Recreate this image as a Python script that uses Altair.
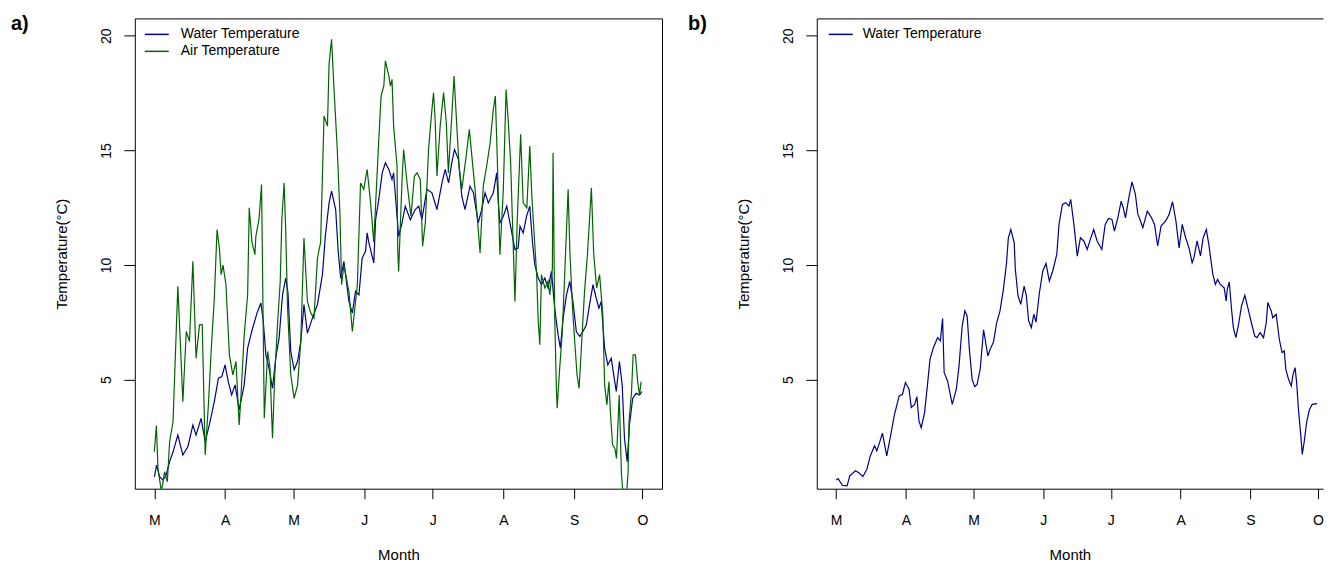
import json
import altair as alt
import pandas as pd

WATER = "Water Temperature"
AIR = "Air Temperature"
BLUE = "#00008B"
GREEN = "#006400"
FONT = "Liberation Sans"

MONTH_TICKS = [0, 31, 61, 92, 122, 153, 184, 214]
MONTH_LABELS = ["M", "A", "M", "J", "J", "A", "S", "O"]
TEMP_TICKS = [5, 10, 15, 20]
PANEL_LABELS = ["a)", "b)"]

# ---- panel a) water temperature (day since 1 March, degC)
a_water_day = [0, 1, 2.3, 3.8, 5.2, 6.7, 8.2, 10.3, 12.5, 14.7,
               16.9, 18.3, 20.5, 22.3, 24.1, 26.3, 28.1, 29.6, 31, 32.4,
               33.9, 35.4, 37.2, 39.4, 40.9, 42.7, 45, 46.7, 47.7, 48.9,
               50.3, 51.8, 53.3, 54.7, 56.2, 57.6, 58.6, 59.8, 61.3, 62.8,
               64.2, 65.6, 67.1, 69.3, 71.5, 73.7, 75.0, 76.6, 77.7, 79.5,
               80.6, 81.7, 83.1, 85.3, 86.8, 88.2, 89.7, 91.1, 92.6, 93.3,
               94.0, 96.2, 97.0, 98.4, 99.9, 101.3, 102.8, 104.2, 104.9, 105.7,
               107.1, 108.6, 110, 112.2, 114.4, 115.9, 117.3, 119.5, 121.7, 123.9,
               126.1, 127.5, 129, 130.4, 131.6, 133.3, 134.8, 136.2, 138.4, 139.9,
               142, 143.5, 145, 146.4, 148.6, 150.1, 150.8, 151.5, 153, 154.5,
               155.9, 158.1, 159.5, 160.3, 161.7, 163.2, 164.6, 165.8, 166.8, 168.3,
               169.7, 171.2, 172.6, 174.1, 175.5, 177, 178, 179.2, 180.7, 182.1,
               183.5, 185, 186.5, 187.9, 189.4, 190.8, 192.3, 193.7, 194.9, 195.9,
               197.4, 198.8, 200.3, 202.5, 203.9, 205.1, 206.1, 207.3, 208.3, 209.7,
               211.2, 212.7, 213.8]
a_water_val = [0.76, 1.27, 0.76, 0.62, 0.84, 1.42, 1.85, 2.58, 1.71, 2.07,
               3.02, 2.58, 3.31, 2.29, 3.02, 4.04, 5.06, 5.13, 5.64, 4.91,
               4.33, 4.77, 3.68, 4.77, 6.37, 7.10, 7.90, 8.34, 7.61, 6.08,
               5.50, 4.62, 6.0, 6.81, 8.70, 9.43, 8.78, 6.23, 5.43, 5.79,
               6.66, 8.27, 7.03, 7.68, 8.27, 9.58, 11.3, 12.71, 13.22, 12.42,
               10.6, 9.43, 10.16, 8.41, 7.9, 8.85, 8.7, 10.3, 10.6, 11.4,
               11.0, 10.09, 11.98, 12.86, 14.02, 14.46, 14.17, 13.73, 14.02, 13.0,
               11.25, 11.84, 12.57, 11.98, 12.42, 12.57, 11.98, 13.3, 13.15, 12.42,
               13.58, 14.17, 13.58, 14.46, 15.04, 14.61, 13.0, 12.42, 13.44, 13.15,
               11.84, 12.42, 13.15, 12.71, 13.15, 14.02, 12.71, 11.84, 12.13, 12.57,
               11.84, 10.67, 10.74, 11.69, 11.4, 12.13, 12.57, 10.96, 10.02, 9.43,
               9.14, 9.43, 9.0, 9.72, 8.12, 6.96, 6.37, 7.68, 8.70, 9.29,
               8.41, 7.10, 6.88, 7.10, 7.39, 8.27, 9.14, 8.56, 8.12, 8.41,
               6.37, 5.64, 5.93, 4.48, 5.79, 4.77, 2.44, 1.42, 3.02, 4.18,
               4.4, 4.33, 4.48]

# ---- panel a) air temperature
a_air_day = [0.0, 0.9, 1.6, 3.1, 4.5, 5.7, 6.7, 8.2, 9.6, 10.3,
             11.5, 12.5, 14.0, 15.4, 16.9, 18.3, 19.8, 21.0, 22.3, 23.7,
             24.9, 26.3, 27.5, 28.5, 29.3, 30.1, 31.4, 32.9, 34.4, 35.8,
             37.2, 38.0, 39.4, 40.9, 41.6, 42.8, 44.1, 44.5, 45.9, 47.0,
             48.2, 49.7, 50.7, 51.8, 52.8, 54.0, 55.2, 55.9, 56.9, 57.6,
             58.4, 59.8, 61.3, 62.8, 64.2, 65.6, 67.1, 68.6, 70.0, 71.5,
             72.9, 74.4, 75.9, 76.6, 77.7, 78.7, 80.2, 81.4, 82.1, 83.1,
             85.3, 86.8, 89.0, 90.4, 91.8, 93.3, 94.8, 96.2, 98.4, 99.4,
             100.6, 101.3, 102.8, 103.5, 104.2, 104.9, 106.4, 106.7, 107.1, 108.6,
             109.3, 110.8, 112.5, 114.0, 115.2, 116.6, 117.6, 118.8, 120.2, 121.7,
             122.4, 123.1, 123.9, 125.3, 126.8, 128.0, 128.9, 130.4, 131.4, 132.6,
             133.6, 134.8, 136.7, 138.1, 139.2, 140.6, 142.1, 142.8, 144.2, 145.7,
             147.2, 148.6, 149.5, 150.4, 151.5, 153.0, 154.2, 155.2, 156.2, 158.1,
             159.1, 160.6, 161.7, 163.3, 164.6, 165.5, 167.6, 168.3, 169.0, 169.7,
             171.2, 172.6, 173.4, 174.5, 174.8, 175.5, 176.3, 176.6, 177.7, 178.8,
             179.9, 181.4, 182.2, 183.4, 184.3, 185.3, 186.2, 187.2, 188.6, 189.9,
             191.6, 192.6, 193.9, 195.2, 196.6, 197.4, 198.4, 199.3, 200.0, 200.9,
             201.9, 202.6, 203.8, 204.8, 205.5, 207.0, 207.7, 208.1, 209.2, 209.9,
             210.9, 211.9, 212.7, 213.4]
a_air_val = [1.85, 3.0, 1.12, 0.1, 0.98, 0.54, 2.29, 3.17, 7.10, 9.07,
             6.37, 4.04, 7.10, 6.66, 10.16, 5.93, 7.39, 7.4, 1.71, 3.9,
             6.23, 8.56, 11.55, 10.74, 9.58, 10.0, 9.14, 6.08, 5.21, 5.79,
             3.02, 4.33, 6.95, 8.70, 12.5, 11.0, 10.45, 11.25, 12.0, 13.51,
             3.31, 6.23, 5.5, 2.44, 5.21, 7.39, 9.29, 12.0, 13.58, 11.5,
             8.12, 5.21, 4.18, 4.77, 6.66, 11.18, 8.41, 7.9, 7.68, 10.3,
             11.0, 16.5, 16.06, 18.76, 19.85, 17.81, 15.04, 12.13, 9.14, 10.0,
             8.85, 7.10, 9.14, 13.58, 13.30, 14.17, 12.71, 11.0, 15.48, 17.37,
             17.81, 18.91, 18.25, 17.81, 18.1, 16.06, 14.32, 10.67, 9.72, 13.73,
             15.04, 13.58, 12.13, 13.88, 14.02, 13.73, 10.82, 11.84, 15.04, 16.79,
             17.52, 16.35, 13.88, 16.06, 17.52, 16.21, 14.02, 16.5, 18.25, 16.06,
             14.32, 13.3, 14.75, 15.92, 14.75, 13.3, 11.4, 10.53, 13.44, 14.32,
             15.33, 16.79, 17.37, 14.46, 10.45, 13.3, 17.66, 16.21, 14.46, 8.41,
             11.98, 15.7, 12.71, 12.5, 15.19, 13.0, 9.58, 7.54, 6.52, 9.58,
             9.0, 9.3, 8.7, 9.87, 14.9, 7.83, 4.48, 3.75, 5.5, 7.0,
             9.58, 13.3, 10.5, 8.0, 6.66, 5.21, 4.62, 6.37, 8.85, 10.5,
             13.37, 10.5, 9.0, 9.58, 7.83, 4.77, 3.9, 4.91, 3.46, 2.15,
             2.0, 1.56, 4.33, 0.83, 0.0, 0.0, 0.98, 3.17, 4.48, 6.08,
             6.08, 4.91, 4.33, 4.91]

# ---- panel b) water temperature
b_water_day = [0, 0.9, 2.8, 4.9, 6.1, 8.6, 10.1, 11.9, 13.7, 15.2,
               17.1, 18.1, 19.3, 20.6, 22.5, 24.2, 25.8, 28.0, 29.5, 30.8,
               32.4, 33.4, 34.9, 35.9, 36.8, 37.8, 39.3, 40.7, 41.7, 43.2,
               45.1, 46.3, 47.3, 48.0, 49.5, 51.6, 53.4, 54.6, 56.0, 57.2,
               58.2, 59.2, 60.4, 61.6, 62.6, 64.0, 65.5, 66.2, 67.4, 68.4,
               69.9, 71.3, 72.8, 74.3, 75.7, 76.5, 77.6, 79.1, 79.6, 80.8,
               82.0, 83.5, 84.5, 85.5, 86.7, 87.8, 88.8, 90.3, 91.8, 93.2,
               94.7, 96.2, 98.0, 99.0, 100.5, 102.0, 103.4, 104.2, 105.6, 107.1,
               108.5, 110.0, 111.5, 112.9, 114.4, 115.9, 118.0, 119.5, 121.0, 122.5,
               123.6, 125.1, 126.6, 127.5, 128.5, 130.0, 131.4, 132.9, 134.0, 135.2,
               136.2, 138.2, 139.9, 141.4, 142.8, 144.3, 146.5, 147.9, 149.4, 150.9,
               152.3, 153.7, 155.2, 156.7, 158.1, 158.9, 160.3, 161.8, 163.0, 164.4,
               165.5, 166.2, 167.3, 168.4, 169.4, 170.6, 172.3, 173.2, 173.7, 174.6,
               175.6, 176.4, 177.5, 178.6, 180.0, 181.5, 183.0, 184.4, 185.9, 186.9,
               188.3, 189.8, 191.0, 191.7, 193.2, 193.9, 195.4, 196.8, 198.0, 199.0,
               199.7, 200.9, 202.1, 202.9, 203.8, 204.5, 205.3, 206.3, 207.0, 208.0,
               208.9, 210.2, 211.4, 213.6]
b_water_val = [0.62, 0.68, 0.39, 0.36, 0.80, 1.02, 0.94, 0.77, 1.09, 1.67,
               2.11, 1.89, 2.25, 2.66, 1.67, 2.54, 3.41, 4.29, 4.36, 4.87,
               4.58, 3.78, 3.92, 4.26, 3.2, 2.9, 3.56, 4.87, 5.88, 6.39,
               6.83, 6.69, 7.66, 5.3, 4.94, 3.92, 4.58, 5.6, 7.34, 8.0,
               7.78, 6.32, 5.01, 4.69, 4.79, 5.45, 7.17, 6.76, 6.03, 6.32,
               6.64, 7.48, 8.0, 8.94, 10.1, 11.19, 11.55, 10.97, 9.81, 8.65,
               8.28, 9.08, 8.65, 7.56, 7.27, 7.85, 7.51, 8.79, 9.74, 10.07,
               9.30, 9.74, 10.46, 11.77, 12.64, 12.72, 12.57, 12.86, 11.77, 10.39,
               11.19, 11.05, 10.68, 11.12, 11.55, 11.05, 10.68, 11.77, 12.03, 11.99,
               11.48, 12.06, 12.79, 12.5, 12.06, 12.94, 13.63, 13.08, 12.21, 11.92,
               11.63, 12.35, 12.09, 11.77, 10.83, 11.70, 11.95, 12.21, 12.76, 11.92,
               10.75, 11.77, 11.19, 10.75, 10.1, 10.32, 11.05, 10.4, 11.19, 11.55,
               10.90, 10.39, 9.59, 9.15, 9.37, 9.15, 9.01, 8.43, 8.94, 9.26,
               8.06, 7.27, 6.83, 7.34, 8.21, 8.68, 8.06, 7.48, 6.90, 6.83,
               7.05, 6.83, 7.48, 8.36, 8.0, 7.70, 7.85, 6.76, 6.18, 6.25,
               5.45, 5.01, 4.72, 5.23, 5.52, 4.87, 3.70, 2.61, 1.74, 2.39,
               3.12, 3.70, 3.92, 3.95]

assert len(a_water_day) == len(a_water_val)
assert len(a_air_day) == len(a_air_val)
assert len(b_water_day) == len(b_water_val)

df_a = pd.concat([
    pd.DataFrame({"day": a_water_day, "temp": a_water_val, "series": WATER}),
    pd.DataFrame({"day": a_air_day, "temp": a_air_val, "series": AIR}),
], ignore_index=True)
df_b = pd.DataFrame({"day": b_water_day, "temp": b_water_val, "series": WATER})

H = 471
W_A = 528
W_B = 507
Y_DOMAIN = [0.24, 20.76]
X_DOMAIN_A = [-8.56, 222.56]
X_DOMAIN_B = [-8.56, 216.2]

label_expr = f"{json.dumps(MONTH_LABELS)}[indexof({json.dumps(MONTH_TICKS)}, datum.value)]"


def x_axis(width, domain_line):
    return alt.Axis(values=MONTH_TICKS, labelExpr=label_expr, title="Month", grid=False,
                    tickSize=10, labelPadding=15, domain=domain_line, domainColor="black",
                    labelFlush=False, labelOverlap=False,
                    titleX=width / 2, titleY=71, titleAlign="center", titleBaseline="alphabetic")


def y_axis(domain_line):
    return alt.Axis(values=TEMP_TICKS, title="Temperature(°C)", grid=False, tickSize=11,
                    labelPadding=13, labelAngle=270, labelAlign="center",
                    labelBaseline="alphabetic", labelOverlap=False,
                    domain=domain_line, domainColor="black",
                    titleAngle=270, titleX=-68, titleY=H / 2, titleAlign="center",
                    titleBaseline="alphabetic")


def legend(x, label_offset):
    return alt.Legend(title=None, orient="none", legendX=x, legendY=9,
                      symbolType="M-2,0H2", symbolSize=144, symbolStrokeWidth=1.5,
                      labelOffset=label_offset, rowPadding=3, padding=0,
                      labelFontSize=14, labelFont=FONT, labelColor="black")


def panel_label(text, dx):
    return alt.Chart(pd.DataFrame({"label": [text]})).mark_text(
        align="left", baseline="alphabetic", fontSize=20, fontWeight="bold",
        font=FONT, color="black",
    ).encode(text="label:N", x=alt.value(dx), y=alt.value(12))


xs_a = alt.Scale(domain=X_DOMAIN_A, nice=False, zero=False)
xs_b = alt.Scale(domain=X_DOMAIN_B, nice=False, zero=False)
ys = alt.Scale(domain=Y_DOMAIN, nice=False, zero=False)

lines_a = alt.Chart(df_a).mark_line(strokeWidth=1.2, clip=True).encode(
    x=alt.X("day:Q", scale=xs_a, axis=x_axis(W_A, False)),
    y=alt.Y("temp:Q", scale=ys, axis=y_axis(False)),
    color=alt.Color("series:N", scale=alt.Scale(domain=[WATER, AIR], range=[BLUE, GREEN]),
                    legend=legend(15, 17)),
)
panel_a = alt.layer(lines_a, panel_label(PANEL_LABELS[0], -124)).properties(width=W_A, height=H)

line_b = alt.Chart(df_b).mark_line(strokeWidth=1.2, clip=True).encode(
    x=alt.X("day:Q", scale=xs_b, axis=x_axis(W_B, True)),
    y=alt.Y("temp:Q", scale=ys, axis=y_axis(True)),
    color=alt.Color("series:N", scale=alt.Scale(domain=[WATER], range=[BLUE]),
                    legend=legend(17, 15)),
)
top_edge = alt.Chart(df_b).mark_rule(opacity=0).encode(
    x=alt.X("day:Q", scale=xs_b,
            axis=alt.Axis(orient="top", labels=False, ticks=False, domain=True,
                          domainColor="black", title=None, grid=False)),
)
panel_b = alt.layer(line_b, top_edge, panel_label(PANEL_LABELS[1], -129)).resolve_axis(
    x="independent"
).properties(
    width=W_B, height=H,
    view=alt.ViewBackground(stroke="transparent"),
)

chart = alt.hconcat(panel_a, panel_b, spacing=155, bounds="flush").resolve_scale(
    color="independent"
).properties(
    padding={"left": 2, "top": 5, "right": 0, "bottom": 0},
    background="white",
).configure_view(
    stroke="black", strokeWidth=1
).configure_axis(
    labelFont=FONT, titleFont=FONT, labelFontSize=14, titleFontSize=15,
    labelColor="black", titleColor="black", tickColor="black", tickWidth=1,
    titleFontWeight="normal", domainWidth=1,
)

chart.save("out.html", embed_options={"renderer": "svg", "actions": False})
